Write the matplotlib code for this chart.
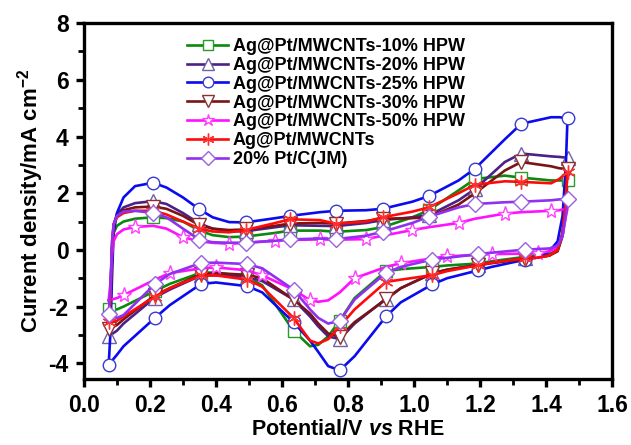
import matplotlib
matplotlib.use("Agg")
import matplotlib.pyplot as plt
from matplotlib.ticker import MultipleLocator, FormatStrFormatter

plt.rcParams['font.family'] = ['Liberation Sans', 'DejaVu Sans']
plt.rcParams['font.weight'] = 'bold'
plt.rcParams['axes.unicode_minus'] = False
plt.rcParams['mathtext.fontset'] = 'custom'
plt.rcParams['mathtext.rm'] = 'Liberation Sans:bold'
plt.rcParams['mathtext.bf'] = 'Liberation Sans:bold'
plt.rcParams['mathtext.it'] = 'Liberation Sans:italic:bold'

# potential grid of the anodic sweep (V vs RHE)
v_fwd = [0.075, 0.08, 0.085, 0.09, 0.10, 0.12, 0.155, 0.21, 0.25, 0.30, 0.35, 0.39,
         0.44, 0.49, 0.58, 0.625, 0.715, 0.765, 0.855, 0.905, 0.995, 1.045, 1.135,
         1.185, 1.275, 1.325, 1.415, 1.44, 1.465]
# potential grid of the cathodic sweep
v_rev = [1.465, 1.46, 1.45, 1.435, 1.41, 1.375, 1.335, 1.235, 1.195, 1.10, 1.055,
         0.96, 0.915, 0.82, 0.775, 0.74, 0.71, 0.685, 0.635, 0.54, 0.495, 0.40,
         0.355, 0.26, 0.215, 0.12, 0.10, 0.075]

labels = ["Ag@Pt/MWCNTs-10% HPW", "Ag@Pt/MWCNTs-20% HPW", "Ag@Pt/MWCNTs-25% HPW",
          "Ag@Pt/MWCNTs-30% HPW", "Ag@Pt/MWCNTs-50% HPW", "Ag@Pt/MWCNTs", "20% Pt/C(JM)"]

# current density, mA cm-2
hpw10_fwd = [-2.1, -1.5, 0.0, 0.6, 0.85, 1.0, 1.1, 1.15, 1.12, 1.0, 0.68, 0.52,
             0.45, 0.47, 0.6, 0.68, 0.68, 0.64, 0.7, 0.8, 1.15, 1.4, 2.1,
             2.5, 2.62, 2.55, 2.45, 2.45, 2.45]
hpw10_rev = [2.45, 1.5, 0.5, 0.0, -0.15, -0.2, -0.25, -0.4, -0.48, -0.55, -0.6,
             -0.68, -0.75, -1.7, -2.5, -3.05, -3.35, -3.4, -2.85, -1.25, -0.95, -0.8,
             -0.8, -1.2, -1.45, -2.0, -2.1, -2.1]

hpw20_fwd = [-3.05, -2.2, 0.0, 0.9, 1.25, 1.5, 1.65, 1.72, 1.62, 1.3, 0.93, 0.75,
             0.65, 0.66, 0.8, 0.87, 0.85, 0.84, 0.95, 1.05, 1.15, 1.22, 1.75,
             2.15, 3.1, 3.4, 3.3, 3.28, 3.25]
hpw20_rev = [3.25, 2.0, 0.6, 0.0, -0.2, -0.25, -0.3, -0.45, -0.52, -0.7, -0.83,
             -1.35, -1.72, -2.6, -3.15, -3.05, -2.7, -2.35, -1.75, -1.1, -0.95, -0.9,
             -0.9, -1.4, -1.68, -2.6, -2.85, -3.05]

hpw25_fwd = [-4.05, -3.0, -1.0, 0.6, 1.3, 1.85, 2.25, 2.37, 2.2, 1.85, 1.43, 1.15,
             0.98, 0.97, 1.12, 1.2, 1.33, 1.38, 1.4, 1.45, 1.7, 1.9, 2.45,
             2.87, 3.9, 4.45, 4.68, 4.68, 4.65]
hpw25_rev = [4.65, 3.0, 1.2, 0.3, -0.05, -0.25, -0.35, -0.6, -0.72, -1.0, -1.22,
             -1.85, -2.35, -3.75, -4.25, -4.1, -3.6, -3.2, -2.55, -1.5, -1.28, -1.15,
             -1.2, -1.95, -2.4, -3.4, -3.7, -4.05]

hpw30_fwd = [-2.8, -2.0, 0.0, 0.85, 1.2, 1.4, 1.5, 1.53, 1.45, 1.2, 0.87, 0.75,
             0.7, 0.72, 0.85, 0.93, 0.95, 0.93, 1.02, 1.1, 1.12, 1.15, 1.6,
             2.0, 2.8, 3.1, 2.95, 2.88, 2.85]
hpw30_rev = [2.85, 1.8, 0.5, -0.05, -0.2, -0.27, -0.32, -0.47, -0.54, -0.7, -0.83,
             -1.35, -1.75, -2.55, -3.07, -2.95, -2.6, -2.25, -1.75, -1.0, -0.88, -0.82,
             -0.85, -1.35, -1.6, -2.45, -2.65, -2.8]

hpw50_fwd = [-1.78, -1.2, -0.2, 0.3, 0.55, 0.72, 0.81, 0.85, 0.75, 0.45, 0.3, 0.25,
             0.22, 0.25, 0.33, 0.35, 0.37, 0.36, 0.38, 0.5, 0.7, 0.8, 0.95,
             1.1, 1.28, 1.33, 1.38, 1.4, 1.45]
hpw50_rev = [1.45, 1.2, 0.5, 0.1, -0.05, -0.12, -0.13, -0.15, -0.17, -0.23, -0.3,
             -0.47, -0.6, -1.0, -1.5, -1.78, -1.83, -1.78, -1.4, -0.9, -0.72, -0.62,
             -0.65, -0.82, -1.05, -1.6, -1.7, -1.78]

agpt_fwd = [-2.55, -1.8, 0.2, 0.9, 1.15, 1.3, 1.38, 1.38, 1.25, 1.0, 0.75, 0.65,
            0.62, 0.7, 0.95, 1.08, 1.05, 0.92, 1.0, 1.15, 1.35, 1.5, 2.0,
            2.3, 2.42, 2.4, 2.35, 2.5, 2.75]
agpt_rev = [2.75, 1.8, 0.6, 0.0, -0.2, -0.27, -0.3, -0.45, -0.54, -0.75, -0.89,
            -1.05, -1.13, -2.1, -2.7, -3.15, -3.3, -3.2, -2.4, -1.3, -1.05, -0.9,
            -0.9, -1.35, -1.65, -2.35, -2.5, -2.55]

jm_fwd = [-2.27, -1.5, 0.3, 0.9, 1.2, 1.35, 1.38, 1.3, 1.15, 0.75, 0.36, 0.27,
          0.25, 0.25, 0.32, 0.37, 0.4, 0.38, 0.5, 0.64, 0.95, 1.17, 1.5,
          1.62, 1.68, 1.7, 1.75, 1.78, 1.81]
jm_rev = [1.81, 1.2, 0.5, 0.15, 0.05, 0.03, 0.01, -0.1, -0.15, -0.28, -0.34,
          -0.6, -0.81, -1.75, -2.5, -2.6, -2.4, -2.1, -1.4, -0.65, -0.5, -0.45,
          -0.46, -0.85, -1.21, -2.3, -2.4, -2.27]

series = [(hpw10_fwd, hpw10_rev), (hpw20_fwd, hpw20_rev), (hpw25_fwd, hpw25_rev),
          (hpw30_fwd, hpw30_rev), (hpw50_fwd, hpw50_rev), (agpt_fwd, agpt_rev),
          (jm_fwd, jm_rev)]

colors = ['#0a8a0a', '#4b2089', '#0b0bf0', '#7a1414', '#ff10ff', '#ff0a0a', '#9030f0']
edge_colors = ['#2a9a2a', '#7060a8', '#3a3ad0', '#8a3030', '#ff40ff', '#ff3030', '#9a60e0']
markers = ['s', '^', 'o', 'v', '*', (6, 2, 0), 'D']
msizes = [8, 9.5, 9, 9.5, 11, 10, 8]

# which grid points carry a symbol
main_fwd = [0, 7, 10, 13, 15, 17, 19, 21, 23, 25, 28]
main_rev = [6, 8, 10, 12, 14, 18, 20, 22, 24]
star_fwd = [6, 9, 12, 14, 16, 18, 20, 22, 24, 26]
star_rev = [5, 7, 9, 11, 13, 17, 19, 21, 23, 25]

fig = plt.figure(figsize=(6.31, 4.45), dpi=100)
ax = fig.add_axes([0.133, 0.148, 0.837, 0.800])

n_f = len(v_fwd)
for i, (jf, jr) in enumerate(series):
    x = v_fwd + v_rev
    y = jf + jr
    if markers[i] == '*':
        mk = star_fwd + [n_f + k for k in star_rev]
    else:
        mk = main_fwd + [n_f + k for k in main_rev]
    ax.plot(x, y, color=colors[i], lw=1.9, marker=markers[i], markevery=mk,
            markersize=msizes[i], markerfacecolor='white' if markers[i] != (6, 2, 0) else colors[i],
            markeredgecolor=edge_colors[i], markeredgewidth=1.0, label=labels[i],
            solid_joinstyle='round')

ax.set_xlim(0.0, 1.6)
ax.set_ylim(-4.56, 8.0)
ax.xaxis.set_major_locator(MultipleLocator(0.2))
ax.xaxis.set_minor_locator(MultipleLocator(0.1))
ax.yaxis.set_major_locator(MultipleLocator(2))
ax.yaxis.set_minor_locator(MultipleLocator(1))
ax.xaxis.set_major_formatter(FormatStrFormatter('%.1f'))
ax.set_yticks([-4, -2, 0, 2, 4, 6, 8])

for sp in ax.spines.values():
    sp.set_linewidth(2.4)
ax.tick_params(which='major', direction='out', length=6, width=2.4, labelsize=16.5, pad=5)
ax.tick_params(which='minor', direction='out', length=4, width=2.0)
for lab in ax.get_xticklabels() + ax.get_yticklabels():
    lab.set_fontweight('bold')

ax.set_xlabel(r'Potential/V $\mathit{vs}$ RHE', fontsize=15.5, fontweight='bold', labelpad=1)
ax.set_ylabel(r'Current density/mA cm$^{-2}$', fontsize=16, fontweight='bold', labelpad=2)

leg = ax.legend(loc='upper left', bbox_to_anchor=(0.195, 0.958), frameon=False,
                fontsize=13, labelspacing=0.1, handlelength=2.3, handletextpad=0.25,
                borderpad=0.0, borderaxespad=0.0, markerscale=0.85)
for t in leg.get_texts():
    t.set_fontweight('bold')

fig.savefig('out.png', dpi=100)
